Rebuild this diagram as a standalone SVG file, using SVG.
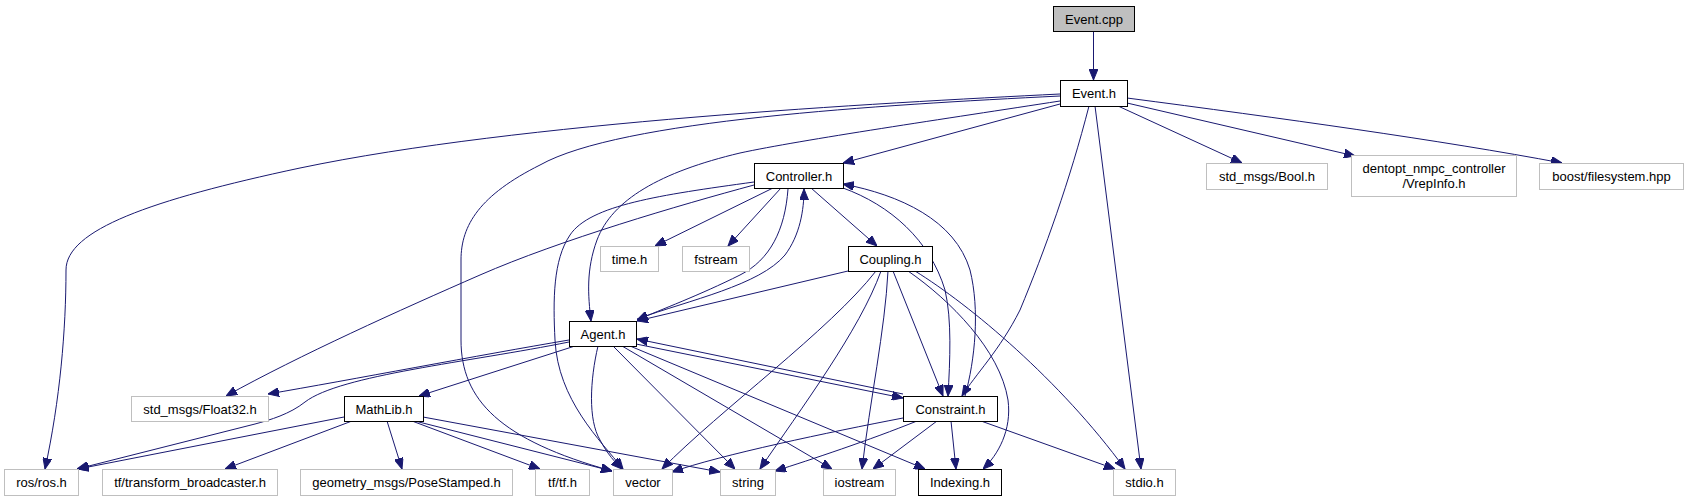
<svg xmlns="http://www.w3.org/2000/svg" width="1687" height="501" viewBox="0 0 1687 501">
<style>
.n rect{fill:#fff;stroke:#000;stroke-width:1}
.g rect{fill:#fff;stroke:#bfbfbf;stroke-width:1}
.r rect{fill:#bfbfbf;stroke:#000;stroke-width:1}
text{font-family:"Liberation Sans",Helvetica,Arial,sans-serif;font-size:13px;fill:#000;text-anchor:middle}
#edges path{fill:none;stroke:#191970;stroke-width:1;marker-end:url(#a)}
</style>
<defs>
<marker id="a" markerWidth="11" markerHeight="9" refX="11" refY="4.5" orient="auto" markerUnits="userSpaceOnUse"><path d="M0,0 L11,4.5 L0,9 z" fill="#191970" stroke="#191970" stroke-width="1"/></marker>
</defs>
<rect width="1687" height="501" fill="#fff"/>
<g id="edges">
<path d="M1093.5,32 L1093.5,80"/>
<path d="M1060,94 C880,103 520,122 300,168 C150,200 66,230 66,270 C66,330 60,400 45,469"/>
<path d="M1060,96 C880,105 620,120 540,165 C480,195 461,225 461,260 L461,340 C461,400 500,440 612,471"/>
<path d="M1060,101 C950,118 800,140 740,153 C660,172 612,200 597,240 C586,270 588,295 591,321"/>
<path d="M1060,104 L843,163"/>
<path d="M1089,106 C1070,180 1045,250 1020,310 C1000,350 975,375 962,396"/>
<path d="M1095,106 L1141,469"/>
<path d="M1118,106 L1242,163"/>
<path d="M1127,103 L1355,156"/>
<path d="M1127,98 C1280,118 1440,140 1562,163"/>
<path d="M754,185 C680,205 560,240 480,275 C400,310 300,355 226,396"/>
<path d="M773,188 L655,246"/>
<path d="M781,188 L728,246"/>
<path d="M811,188 L877,246"/>
<path d="M788,189 C785,230 770,260 740,275 C700,295 660,310 637,320"/>
<path d="M637,319 C690,300 760,285 785,255 C800,235 804,210 804,189"/>
<path d="M754,182 C660,195 590,205 570,235 C553,260 553,300 555,340 C558,400 600,440 623,469"/>
<path d="M843,188 C890,205 930,240 945,290 C952,320 950,360 948,396"/>
<path d="M965,396 C975,360 980,310 970,270 C955,220 900,195 843,184"/>
<path d="M848,271 L637,321"/>
<path d="M876,271 C830,330 720,410 662,469"/>
<path d="M881,271 C860,330 800,410 760,469"/>
<path d="M888,271 C885,330 870,400 862,469"/>
<path d="M893,271 L943,396"/>
<path d="M908,271 C950,300 1000,350 1008,400 C1012,430 998,455 983,469"/>
<path d="M915,271 C970,305 1060,380 1125,469"/>
<path d="M569,340 C480,355 350,380 268,394"/>
<path d="M569,342 C470,362 340,375 305,402 C290,414 270,420 255,424 L77,469"/>
<path d="M575,346 L419,396"/>
<path d="M598,346 C590,380 588,420 600,440 C608,455 615,462 622,469"/>
<path d="M613,346 L735,469"/>
<path d="M622,346 L832,469"/>
<path d="M630,346 L925,469"/>
<path d="M636,344 L903,398"/>
<path d="M903,394 L637,339"/>
<path d="M903,418 C830,432 720,455 672,472"/>
<path d="M917,421 C870,440 810,460 775,471"/>
<path d="M937,421 L873,469"/>
<path d="M951,421 L956,469"/>
<path d="M981,421 L1115,469"/>
<path d="M344,417 L78,469"/>
<path d="M352,421 L225,469"/>
<path d="M387,421 L402,469"/>
<path d="M412,421 L540,469"/>
<path d="M415,421 L612,471"/>
<path d="M423,417 L720,472"/>
</g>
<g id="event_cpp" class="r"><rect x="1053.5" y="6.5" width="81" height="25"/><text x="1094" y="23.5">Event.cpp</text></g>
<g id="event_h" class="n"><rect x="1060.5" y="80.5" width="67" height="26"/><text x="1094" y="98">Event.h</text></g>
<g id="controller_h" class="n"><rect x="754.5" y="163.5" width="89" height="25"/><text x="799" y="180.5">Controller.h</text></g>
<g id="bool_h" class="g"><rect x="1206.5" y="163.5" width="121" height="26"/><text x="1267" y="181">std_msgs/Bool.h</text></g>
<g id="vrepinfo_h" class="g"><rect x="1351.5" y="155.5" width="165" height="41"/><text x="1434" y="172.5">dentopt_nmpc_controller</text><text x="1434" y="187.5">/VrepInfo.h</text></g>
<g id="filesystem_hpp" class="g"><rect x="1539.5" y="163.5" width="144" height="26"/><text x="1611.5" y="181">boost/filesystem.hpp</text></g>
<g id="time_h" class="g"><rect x="600.5" y="246.5" width="58" height="25"/><text x="629.5" y="263.5">time.h</text></g>
<g id="fstream" class="g"><rect x="682.5" y="246.5" width="67" height="25"/><text x="716" y="263.5">fstream</text></g>
<g id="coupling_h" class="n"><rect x="848.5" y="246.5" width="84" height="25"/><text x="890.5" y="263.5">Coupling.h</text></g>
<g id="agent_h" class="n"><rect x="569.5" y="321.5" width="67" height="25"/><text x="603" y="338.5">Agent.h</text></g>
<g id="float32_h" class="g"><rect x="131.5" y="396.5" width="137" height="25"/><text x="200" y="413.5">std_msgs/Float32.h</text></g>
<g id="mathlib_h" class="n"><rect x="344.5" y="396.5" width="79" height="25"/><text x="384" y="413.5">MathLib.h</text></g>
<g id="constraint_h" class="n"><rect x="903.5" y="396.5" width="94" height="25"/><text x="950.5" y="413.5">Constraint.h</text></g>
<g id="ros_h" class="g"><rect x="4.5" y="469.5" width="74" height="26"/><text x="41.5" y="487">ros/ros.h</text></g>
<g id="transform_broadcaster_h" class="g"><rect x="102.5" y="469.5" width="175" height="26"/><text x="190" y="487">tf/transform_broadcaster.h</text></g>
<g id="posestamped_h" class="g"><rect x="300.5" y="469.5" width="212" height="26"/><text x="406.5" y="487">geometry_msgs/PoseStamped.h</text></g>
<g id="tf_h" class="g"><rect x="535.5" y="469.5" width="54" height="26"/><text x="562.5" y="487">tf/tf.h</text></g>
<g id="vector" class="g"><rect x="613.5" y="469.5" width="59" height="26"/><text x="643" y="487">vector</text></g>
<g id="string" class="g"><rect x="720.5" y="469.5" width="55" height="26"/><text x="748" y="487">string</text></g>
<g id="iostream" class="g"><rect x="823.5" y="469.5" width="72" height="26"/><text x="859.5" y="487">iostream</text></g>
<g id="indexing_h" class="n"><rect x="918.5" y="469.5" width="83" height="26"/><text x="960" y="487">Indexing.h</text></g>
<g id="stdio_h" class="g"><rect x="1113.5" y="469.5" width="62" height="26"/><text x="1144.5" y="487">stdio.h</text></g>
</svg>
